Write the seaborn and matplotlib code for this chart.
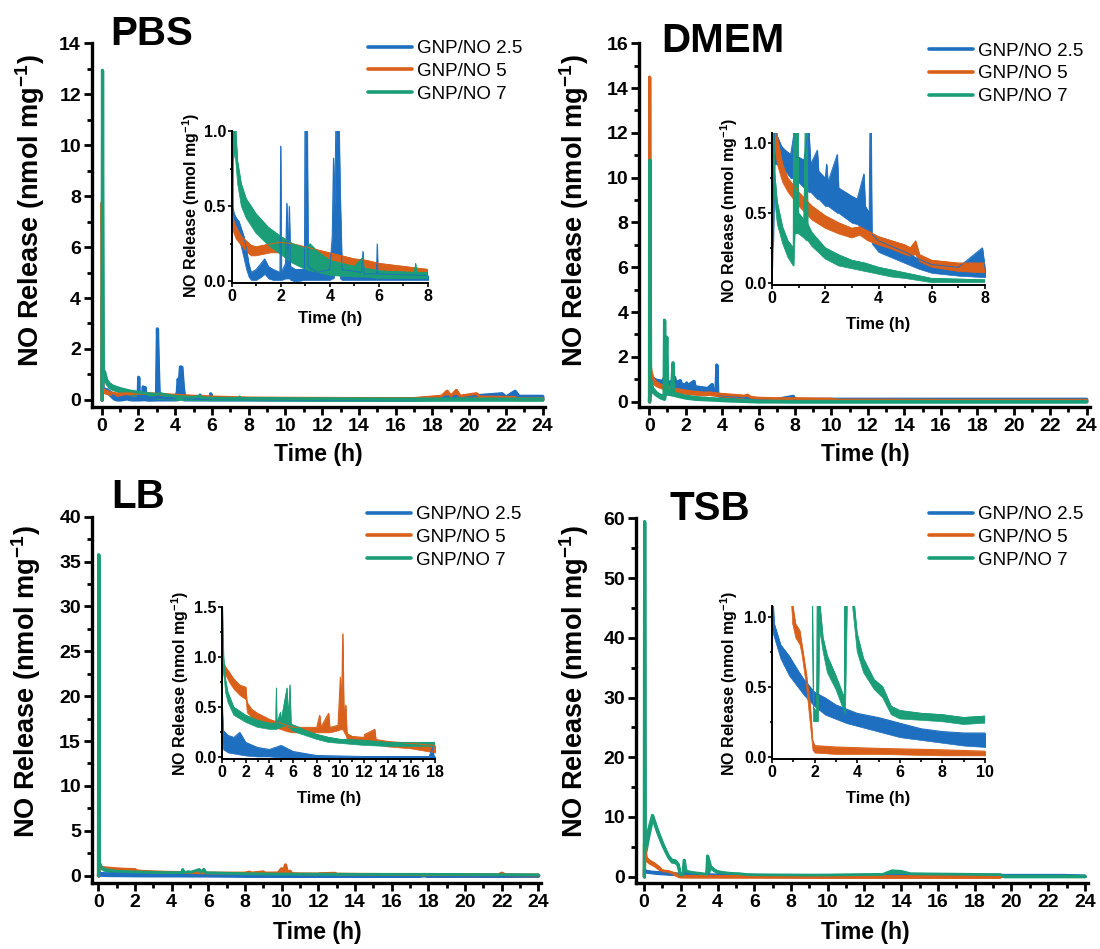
import matplotlib
matplotlib.use("Agg")
import matplotlib.pyplot as plt
import seaborn as sns
import pandas as pd
from matplotlib.ticker import MultipleLocator, FormatStrFormatter
from matplotlib.lines import Line2D

# ---------------- data: (time h, band low, band high) ----------------
SERIES = ["GNP/NO 2.5", "GNP/NO 5", "GNP/NO 7"]
COLORS = ["#1f6fc0", "#d9601a", "#1b9e77"]

PBS_25 = [(0, 0, 0), (0.02, 0.3, 4.0), (0.05, 0.38, 0.5), (0.1, 0.35, 0.45), (0.2, 0.3, 0.42),
          (0.3, 0.28, 0.4), (0.4, 0.22, 0.35), (0.5, 0.15, 0.3), (0.6, 0.08, 0.22), (0.7, 0.03, 0.12),
          (0.8, 0.01, 0.06), (1.0, 0.01, 0.08), (1.2, 0.03, 0.12), (1.35, 0.05, 0.15), (1.5, 0.02, 0.1),
          (1.7, 0.01, 0.08), (1.97, 0.01, 0.06), (2.0, 0.01, 0.9), (2.03, 0.01, 0.06), (2.2, 0.02, 0.12),
          (2.25, 0.02, 0.52), (2.3, 0.02, 0.15), (2.35, 0.02, 0.5), (2.4, 0.01, 0.1), (2.6, 0.0, 0.08),
          (2.97, 0.01, 0.08), (3.02, 0.01, 2.8), (3.07, 0.01, 1.3), (3.12, 0.01, 0.1), (3.5, 0.01, 0.06),
          (4.0, 0.01, 0.08), (4.1, 0.02, 0.3), (4.15, 0.02, 0.82), (4.2, 0.05, 0.5), (4.27, 0.1, 1.3),
          (4.35, 0.1, 1.3), (4.42, 0.02, 0.6), (4.5, 0.01, 0.08), (5.3, 0.01, 0.06), (5.35, 0.01, 0.2),
          (5.4, 0.01, 0.05), (5.9, 0.01, 0.05), (5.93, 0.01, 0.25), (5.96, 0.01, 0.05), (8.0, 0.01, 0.04),
          (12, 0.0, 0.03), (17, 0.0, 0.04), (18, 0.02, 0.1), (20, 0.05, 0.15), (21.8, 0.05, 0.25),
          (22.0, 0.05, 0.12), (22.5, 0.05, 0.35), (22.7, 0.05, 0.15), (24, 0.05, 0.15)]
PBS_5 = [(0, 0, 0), (0.01, 0.3, 7.75), (0.04, 0.35, 0.45), (0.1, 0.32, 0.4), (0.2, 0.28, 0.36),
         (0.4, 0.24, 0.3), (0.6, 0.2, 0.27), (0.8, 0.17, 0.24), (1.0, 0.17, 0.23), (1.3, 0.18, 0.24),
         (1.6, 0.19, 0.25), (2.0, 0.19, 0.26), (2.5, 0.17, 0.25), (3.0, 0.15, 0.23), (3.5, 0.13, 0.21),
         (4.0, 0.12, 0.19), (4.5, 0.1, 0.17), (5.0, 0.09, 0.15), (5.5, 0.08, 0.14), (6.0, 0.07, 0.12),
         (7.0, 0.05, 0.1), (8.0, 0.03, 0.08), (10, 0.03, 0.07), (14, 0.02, 0.06), (17, 0.02, 0.06),
         (18.5, 0.05, 0.15), (18.8, 0.05, 0.35), (19.0, 0.05, 0.15), (19.3, 0.05, 0.38), (19.5, 0.05, 0.15),
         (20.4, 0.05, 0.25), (20.6, 0.05, 0.12), (22.5, 0.04, 0.1), (22.6, 0.02, 0.05), (24, 0.02, 0.05)]
PBS_7 = [(0, 0, 0), (0.03, 0.5, 12.95), (0.07, 0.8, 1.2), (0.15, 0.85, 1.1), (0.25, 0.65, 0.8),
         (0.4, 0.5, 0.65), (0.6, 0.42, 0.55), (0.8, 0.37, 0.5), (1.0, 0.32, 0.45), (1.5, 0.24, 0.36),
         (2.0, 0.18, 0.3), (2.5, 0.12, 0.25), (3.0, 0.08, 0.22), (3.2, 0.07, 0.25), (3.5, 0.06, 0.2),
         (4.0, 0.04, 0.14), (5.0, 0.03, 0.1), (5.35, 0.03, 0.16), (5.4, 0.03, 0.09), (6.0, 0.02, 0.07),
         (7.45, 0.02, 0.06), (7.5, 0.02, 0.12), (7.55, 0.02, 0.06), (8.0, 0.02, 0.06), (12, 0.0, 0.05),
         (18, 0.0, 0.04), (24, 0.0, 0.04)]

DMEM_25 = [(0, 0, 0), (0.02, 0.25, 0.35), (0.05, 0.3, 0.6), (0.1, 0.85, 1.1), (0.2, 0.85, 1.05),
           (0.35, 0.82, 0.98), (0.5, 0.8, 0.95), (0.7, 0.75, 0.92), (0.85, 0.75, 1.1), (0.9, 0.74, 0.9),
           (1.0, 0.72, 0.9), (1.2, 0.68, 0.88), (1.38, 0.65, 1.1), (1.45, 0.65, 0.85), (1.7, 0.6, 0.95),
           (1.75, 0.6, 0.8), (2.0, 0.55, 0.75), (2.05, 0.55, 0.85), (2.1, 0.55, 0.72), (2.45, 0.5, 0.92),
           (2.5, 0.5, 0.68), (3.0, 0.43, 0.62), (3.2, 0.42, 0.6), (3.45, 0.38, 0.78), (3.5, 0.38, 0.55),
           (3.65, 0.35, 0.5), (3.7, 0.35, 1.65), (3.75, 0.28, 0.35), (4.0, 0.22, 0.3), (4.5, 0.18, 0.26),
           (5.0, 0.14, 0.22), (5.5, 0.1, 0.17), (6.0, 0.07, 0.13), (7.0, 0.05, 0.11), (7.9, 0.04, 0.25),
           (8.0, 0.04, 0.1), (10, 0.04, 0.12), (16, 0.04, 0.12), (24, 0.04, 0.12)]
DMEM_5 = [(0, 0, 0), (0.01, 1.0, 14.5), (0.04, 1.2, 1.6), (0.1, 1.0, 1.3), (0.2, 0.85, 1.05),
          (0.4, 0.72, 0.85), (0.6, 0.65, 0.75), (0.8, 0.6, 0.7), (1.0, 0.55, 0.65), (1.5, 0.45, 0.55),
          (2.0, 0.39, 0.48), (2.5, 0.35, 0.43), (3.0, 0.32, 0.39), (3.3, 0.34, 0.4), (3.6, 0.3, 0.37),
          (4.0, 0.27, 0.33), (4.5, 0.24, 0.3), (5.0, 0.2, 0.27), (5.2, 0.19, 0.25), (5.4, 0.2, 0.3),
          (5.55, 0.15, 0.2), (6.0, 0.11, 0.16), (7.0, 0.08, 0.14), (8.0, 0.07, 0.14), (10, 0.05, 0.12),
          (10.3, 0.03, 0.08), (16, 0.03, 0.07), (24, 0.03, 0.07)]
DMEM_7 = [(0, 0, 0), (0.01, 0.2, 0.35), (0.03, 0.5, 10.8), (0.06, 0.8, 1.1), (0.1, 0.6, 0.8),
          (0.2, 0.42, 0.58), (0.4, 0.28, 0.4), (0.6, 0.18, 0.3), (0.8, 0.12, 0.25), (0.83, 0.12, 3.65),
          (0.87, 0.35, 0.55), (0.95, 0.35, 2.9), (1.0, 0.35, 0.5), (1.2, 0.32, 0.45), (1.3, 0.3, 1.75),
          (1.35, 0.3, 0.42), (1.5, 0.26, 0.36), (2.0, 0.17, 0.25), (2.5, 0.12, 0.2), (3.0, 0.1, 0.16),
          (3.5, 0.08, 0.14), (4.0, 0.06, 0.11), (4.5, 0.04, 0.09), (5.0, 0.03, 0.07), (6.0, 0.0, 0.03),
          (8.0, 0.0, 0.02), (24, 0.0, 0.02)]

LB_25 = [(0, 0, 0), (0.02, 0.15, 0.5), (0.1, 0.08, 0.27), (0.5, 0.05, 0.22), (1.0, 0.04, 0.2),
         (1.5, 0.03, 0.25), (2.0, 0.02, 0.15), (3.0, 0.01, 0.1), (4.0, 0.01, 0.08), (5.0, 0.0, 0.12),
         (6.0, 0.0, 0.06), (7.0, 0.0, 0.04), (8.0, 0.0, 0.02), (12, 0.0, 0.01), (17.5, 0.0, 0.01),
         (17.8, 0.0, 0.1), (17.9, 0.0, 0.01), (24, 0.0, 0.01)]
LB_5 = [(0, 0, 0), (0.02, 0.8, 1.05), (0.1, 0.85, 0.95), (0.3, 0.82, 0.9), (0.6, 0.75, 0.85),
        (1.0, 0.68, 0.78), (1.5, 0.62, 0.72), (2.0, 0.58, 0.7), (2.1, 0.45, 0.55), (2.5, 0.4, 0.48),
        (3.0, 0.36, 0.44), (4.0, 0.32, 0.38), (5.0, 0.28, 0.34), (5.5, 0.26, 0.32), (6.0, 0.25, 0.3),
        (8.0, 0.25, 0.3), (8.25, 0.25, 0.42), (8.35, 0.25, 0.3), (9.0, 0.25, 0.44), (9.1, 0.25, 0.3),
        (9.8, 0.27, 0.32), (10.0, 0.28, 0.8), (10.1, 0.28, 0.5), (10.2, 0.28, 1.23), (10.3, 0.25, 0.4),
        (10.45, 0.22, 0.52), (10.55, 0.18, 0.24), (11.0, 0.16, 0.21), (12.0, 0.14, 0.2), (12.05, 0.14, 0.23),
        (12.9, 0.13, 0.28), (13.0, 0.13, 0.18), (14.0, 0.11, 0.16), (16.0, 0.09, 0.14), (18.0, 0.05, 0.12),
        (21.8, 0.05, 0.1), (22.0, 0.05, 0.3), (22.2, 0.05, 0.1), (24, 0.03, 0.08)]
LB_7 = [(0, 0, 0), (0.02, 1.0, 35.8), (0.05, 1.2, 1.5), (0.15, 0.85, 1.0), (0.3, 0.65, 0.78),
        (0.5, 0.55, 0.65), (1.0, 0.42, 0.5), (2.0, 0.35, 0.42), (3.0, 0.3, 0.37), (4.0, 0.28, 0.34),
        (4.55, 0.28, 0.34), (4.6, 0.28, 0.69), (4.65, 0.28, 0.34), (4.95, 0.3, 0.45), (5.0, 0.3, 0.36),
        (5.5, 0.32, 0.69), (5.6, 0.3, 0.38), (5.75, 0.3, 0.72), (5.85, 0.27, 0.33), (6.5, 0.24, 0.3),
        (7.0, 0.22, 0.27), (8.0, 0.18, 0.23), (9.0, 0.15, 0.2), (10, 0.14, 0.18), (12, 0.12, 0.17),
        (14, 0.11, 0.15), (18, 0.11, 0.15), (24, 0.05, 0.1)]

TSB_25 = [(0, 0, 0), (0.01, 0.9, 1.2), (0.1, 0.85, 0.95), (0.4, 0.7, 0.8), (0.8, 0.58, 0.72),
          (1.2, 0.5, 0.62), (1.5, 0.44, 0.55), (2.0, 0.36, 0.46), (2.5, 0.3, 0.42), (3.0, 0.27, 0.37),
          (3.5, 0.24, 0.34), (4.0, 0.22, 0.31), (5.0, 0.18, 0.28), (6.0, 0.14, 0.24), (7.0, 0.12, 0.2),
          (8.0, 0.1, 0.18), (9.0, 0.08, 0.17), (10, 0.07, 0.17), (14, 0.1, 0.2), (19.5, 0.15, 0.25),
          (22.8, 0.15, 0.25), (24, 0.1, 0.15)]
TSB_5 = [(0, 0, 0), (0.01, 4.0, 5.5), (0.1, 2.8, 3.2), (0.3, 2.3, 2.6), (0.5, 2.0, 2.3),
         (0.8, 1.35, 1.6), (0.95, 0.95, 1.1), (1.1, 0.85, 0.95), (1.3, 0.8, 0.9), (1.4, 0.72, 0.8),
         (1.6, 0.5, 0.6), (1.8, 0.2, 0.35), (1.9, 0.05, 0.12), (2.0, 0.03, 0.08), (3.0, 0.02, 0.07),
         (5.0, 0.02, 0.06), (8.0, 0.01, 0.05), (10, 0.01, 0.04), (19.4, 0.01, 0.04)]
TSB_7 = [(0, 0, 0), (0.02, 5.0, 59.5), (0.05, 4.0, 6.0), (0.1, 4.5, 5.5), (0.25, 7.0, 8.0),
         (0.45, 9.8, 10.3), (0.7, 7.5, 8.0), (1.0, 5.2, 5.6), (1.3, 3.3, 3.6), (1.5, 2.5, 2.8),
         (1.7, 2.4, 2.7), (1.85, 1.8, 2.1), (1.95, 0.25, 0.35), (2.1, 0.25, 0.32), (2.18, 0.25, 2.8),
         (2.25, 0.9, 1.1), (2.4, 0.75, 0.85), (2.6, 0.6, 0.72), (3.0, 0.48, 0.58), (3.4, 0.32, 0.42),
         (3.45, 0.3, 3.5), (3.6, 1.6, 1.8), (3.8, 1.05, 1.2), (4.0, 0.75, 0.88), (4.3, 0.6, 0.7),
         (4.8, 0.48, 0.55), (5.2, 0.42, 0.5), (5.6, 0.3, 0.36), (6.0, 0.27, 0.33), (7.0, 0.26, 0.31),
         (8.0, 0.25, 0.3), (9.0, 0.23, 0.28), (10, 0.24, 0.29), (13.0, 0.3, 0.4), (13.5, 0.6, 1.0),
         (14.0, 0.5, 0.9), (14.5, 0.35, 0.5), (19.4, 0.3, 0.35), (19.6, 0.05, 0.1), (24, 0.05, 0.1)]

DATA = {"PBS": [PBS_25, PBS_5, PBS_7], "DMEM": [DMEM_25, DMEM_5, DMEM_7],
        "LB": [LB_25, LB_5, LB_7], "TSB": [TSB_25, TSB_5, TSB_7]}

# ---------------- layout (pixels in a 1100 x 949 figure) ----------------
W, H = 1100, 949
LAYOUT = {
    "PBS": dict(main=(92, 43.3, 545, 407.3), xlim=(-0.53, 24.13), ylim=(-0.29, 14), ymaj=2, ymin=1,
                inset=(231.5, 131, 428, 283), ixlim=(0, 8), iylim=(-0.01, 1.0), ixmaj=2, iymaj=0.5,
                iymin=0.25, title=(110, 45), leg=(368, 40),
                ylab=(30, 211), xlab=(318, 455), iylab=(191, 205), ixlab=(330, 319)),
    "DMEM": dict(main=(639.4, 43.3, 1090, 407.3), xlim=(-0.54, 24.19), ylim=(-0.25, 16), ymaj=2, ymin=1,
                 inset=(772, 133.3, 985, 285), ixlim=(0, 8), iylim=(-0.017, 1.072), ixmaj=2, iymaj=0.5,
                 iymin=0.25, title=(661, 52), leg=(929, 42.5),
                 ylab=(574.5, 211), xlab=(865, 455), iylab=(729, 210), ixlab=(878, 325)),
    "LB": dict(main=(92, 516.7, 541, 883.3), xlim=(-0.34, 24.14), ylim=(-0.85, 40), ymaj=5, ymin=2.5,
               inset=(222, 606.7, 435, 759), ixlim=(0, 18), iylim=(-0.015, 1.5), ixmaj=2, iymaj=0.5,
               iymin=0.25, title=(111, 508), leg=(366.5, 506),
               ylab=(26, 682), xlab=(317, 933), iylab=(180, 683), ixlab=(329, 798)),
    "TSB": dict(main=(636, 518.3, 1088, 883.3), xlim=(-0.44, 24.17), ylim=(-1.1, 60), ymaj=10, ymin=5,
                inset=(772, 606, 985, 759), ixlim=(0, 10), iylim=(-0.016, 1.076), ixmaj=2, iymaj=0.5,
                iymin=0.25, title=(669, 520), leg=(929, 506),
                ylab=(574.5, 682), xlab=(865, 933), iylab=(729, 683), ixlab=(878, 798)),
}

sns.set_theme(style="ticks")
plt.rcParams["font.family"] = ["Liberation Sans", "DejaVu Sans"]
plt.rcParams["mathtext.fontset"] = "custom"
plt.rcParams["mathtext.rm"] = "Liberation Sans"
plt.rcParams["mathtext.bf"] = "Liberation Sans:bold"
for k in ("text.color", "axes.labelcolor", "xtick.color", "ytick.color", "axes.edgecolor"):
    plt.rcParams[k] = "black"

YLABEL = r"NO Release (nmol mg$^{\mathbf{-1}}$)"
XLABEL = "Time (h)"

fig = plt.figure(figsize=(W / 100, H / 100), dpi=100)
fig.patch.set_facecolor("white")


def add_ax(box):
    l, t, r, b = box
    return fig.add_axes([l / W, 1 - b / H, (r - l) / W, (b - t) / H])


def fx(x):
    return x / W


def fy(y):
    return 1 - y / H


def style_axis(ax, lw, maj_len, min_len, tw, lsize, pad):
    sns.despine(ax=ax)
    for s in ("left", "bottom"):
        ax.spines[s].set_linewidth(lw)
        ax.spines[s].set_color("black")
    ax.tick_params(which="major", direction="out", length=maj_len, width=tw, colors="black",
                   labelsize=lsize, pad=pad)
    ax.tick_params(which="minor", direction="out", length=min_len, width=tw, colors="black")
    for lab in ax.get_xticklabels() + ax.get_yticklabels():
        lab.set_fontweight("bold")
    ax.set_facecolor("none")
    ax.grid(False)


def draw_series(ax, series, lw_line, lw_edge):
    for name, col, pts in zip(SERIES, COLORS, series):
        df = pd.DataFrame(pts, columns=["t", "lo", "hi"])
        ax.fill_between(df["t"], df["lo"], df["hi"], color=col, lw=lw_edge, edgecolor=col)
        sns.lineplot(data=df, x="t", y="hi", ax=ax, color=col, lw=lw_line, estimator=None,
                     sort=False, legend=False)


for key, L in LAYOUT.items():
    # ---- main axes
    ax = add_ax(L["main"])
    draw_series(ax, DATA[key], 2.0, 2.0)
    ax.set_xlim(*L["xlim"])
    ax.set_ylim(*L["ylim"])
    ax.xaxis.set_major_locator(MultipleLocator(2))
    ax.xaxis.set_minor_locator(MultipleLocator(1))
    ax.yaxis.set_major_locator(MultipleLocator(L["ymaj"]))
    ax.yaxis.set_minor_locator(MultipleLocator(L["ymin"]))
    ax.set_xticks(range(0, 25, 2))
    style_axis(ax, 2.4, 6, 3.5, 2.0, 14, 2)
    ax.set_xlabel(XLABEL, fontsize=16.5, fontweight="bold")
    ax.set_ylabel(YLABEL, fontsize=19.5, fontweight="bold")
    ax.xaxis.label.set_verticalalignment("center")
    ax.yaxis.label.set_verticalalignment("center")
    ax.xaxis.set_label_coords(fx(L["xlab"][0]), fy(L["xlab"][1]), transform=fig.transFigure)
    ax.yaxis.set_label_coords(fx(L["ylab"][0]), fy(L["ylab"][1]), transform=fig.transFigure)
    fig.text(fx(L["title"][0]), fy(L["title"][1]), key, fontsize=29, fontweight="bold",
             ha="left", va="baseline", color="black")
    handles = [Line2D([], [], color=c, lw=2.6) for c in COLORS]
    ax.legend(handles, SERIES, loc="upper left", bbox_to_anchor=(fx(L["leg"][0]), fy(L["leg"][1])),
              bbox_transform=fig.transFigure, frameon=False, fontsize=13.5, handlelength=2.35,
              handletextpad=0.27, labelspacing=0.3, borderpad=0, borderaxespad=0)

    # ---- inset axes
    ia = add_ax(L["inset"])
    draw_series(ia, DATA[key], 0.7, 0.5)
    ia.set_xlim(*L["ixlim"])
    ia.set_ylim(*L["iylim"])
    ia.xaxis.set_major_locator(MultipleLocator(L["ixmaj"]))
    ia.xaxis.set_minor_locator(MultipleLocator(L["ixmaj"] / 2))
    ia.yaxis.set_major_locator(MultipleLocator(L["iymaj"]))
    ia.yaxis.set_minor_locator(MultipleLocator(L["iymin"]))
    ia.yaxis.set_major_formatter(FormatStrFormatter("%.1f"))
    style_axis(ia, 1.4, 3.0, 1.8, 1.2, 11.5, 1)
    ia.set_xlabel(XLABEL, fontsize=12, fontweight="bold")
    ia.set_ylabel(YLABEL, fontsize=11.5, fontweight="bold")
    ia.xaxis.label.set_verticalalignment("center")
    ia.yaxis.label.set_verticalalignment("center")
    ia.xaxis.set_label_coords(fx(L["ixlab"][0]), fy(L["ixlab"][1]), transform=fig.transFigure)
    ia.yaxis.set_label_coords(fx(L["iylab"][0]), fy(L["iylab"][1]), transform=fig.transFigure)

fig.savefig("out.png", dpi=100, facecolor="white")
